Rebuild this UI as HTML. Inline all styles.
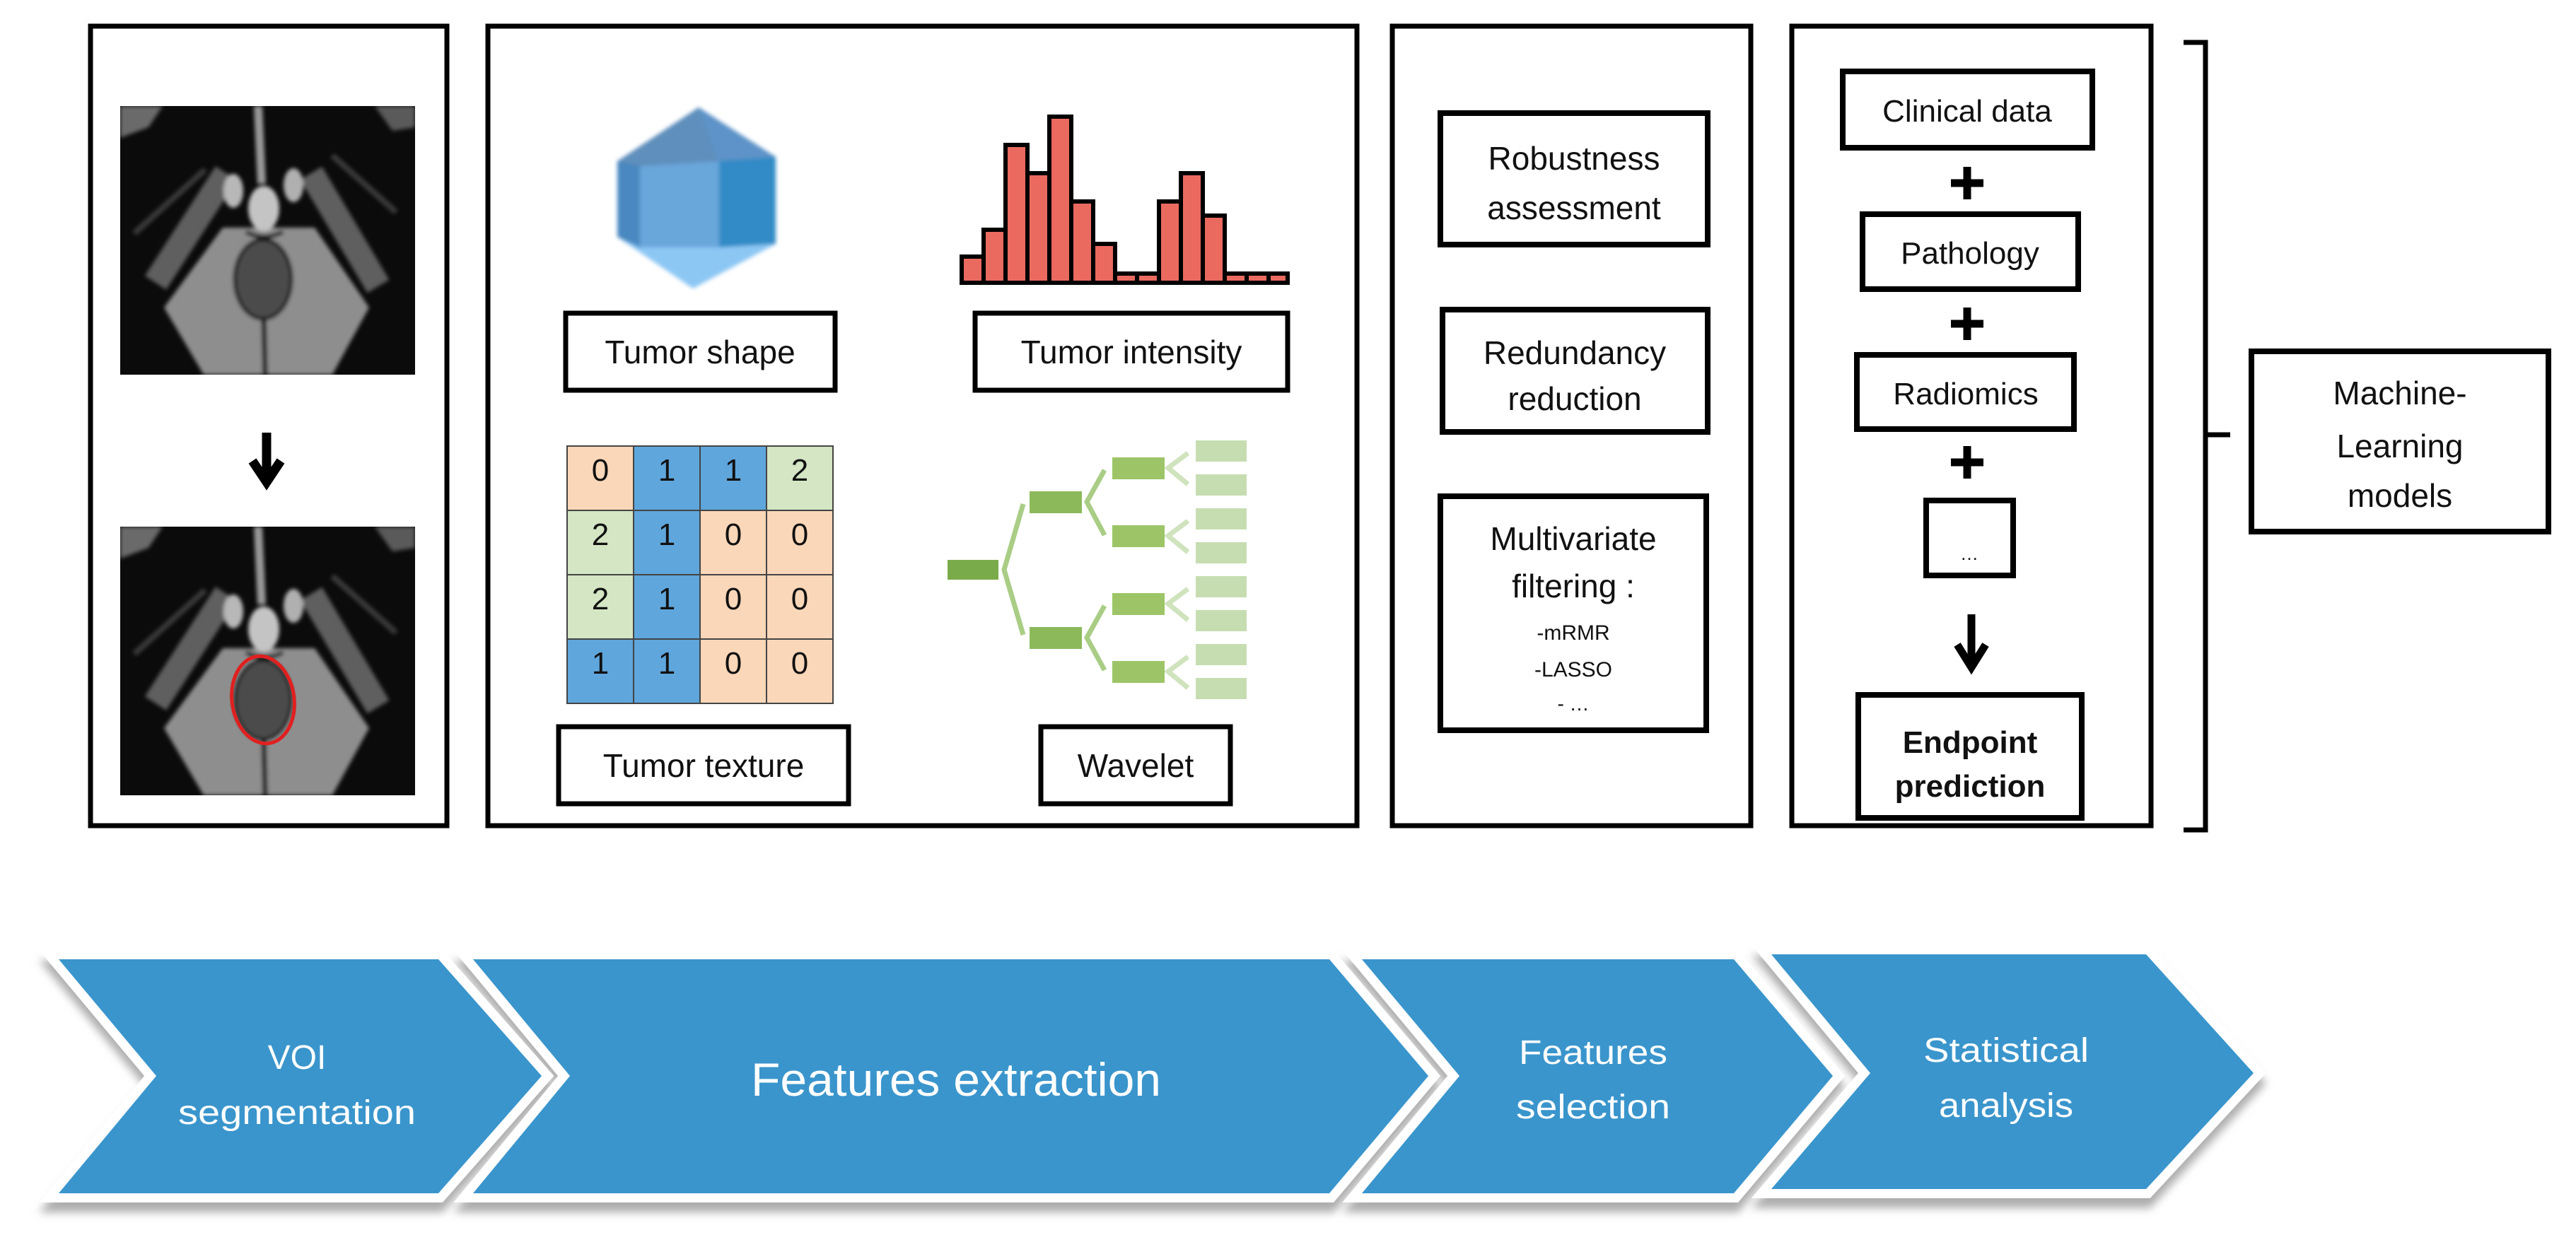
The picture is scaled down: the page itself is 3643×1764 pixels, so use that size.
<!DOCTYPE html>
<html><head><meta charset="utf-8"><style>
html,body{margin:0;padding:0;background:#fff}
svg{display:block}
text{font-family:"Liberation Sans",sans-serif}
</style></head><body>
<svg width="3643" height="1764" viewBox="0 0 3643 1764" xmlns="http://www.w3.org/2000/svg">
<defs>
<filter id="bl" x="-5%" y="-5%" width="110%" height="110%"><feGaussianBlur stdDeviation="3"/></filter>
<filter id="sh" x="-10%" y="-10%" width="120%" height="130%"><feDropShadow dx="0" dy="14" stdDeviation="6" flood-color="#999" flood-opacity="0.8"/></filter>
<clipPath id="mc"><rect x="0" y="0" width="417" height="380"/></clipPath>
<g id="mri">
 <g clip-path="url(#mc)">
 <rect x="0" y="0" width="417" height="380" fill="#0b0b0b"/>
 <g filter="url(#bl)">
  <path d="M0 0 L60 0 L40 30 L0 45 Z" fill="#6a6a6a"/>
  <path d="M417 0 L360 0 L385 35 L417 30 Z" fill="#5a5a5a"/>
  <polygon points="62,285 145,172 275,172 352,285 300,380 118,380" fill="#8e8e8e"/>
  <path d="M50 250 L150 95" stroke="#5e5e5e" stroke-width="36" fill="none"/>
  <path d="M270 95 L365 255" stroke="#5e5e5e" stroke-width="36" fill="none"/>
  <path d="M20 180 L120 90" stroke="#3a3a3a" stroke-width="8" fill="none"/>
  <path d="M300 70 L390 150" stroke="#3a3a3a" stroke-width="8" fill="none"/>
  <ellipse cx="160" cy="120" rx="14" ry="24" fill="#b8b8b8"/>
  <ellipse cx="245" cy="112" rx="14" ry="24" fill="#b0b0b0"/>
  <ellipse cx="203" cy="145" rx="22" ry="32" fill="#c4c4c4"/>
  <path d="M195 0 L200 110" stroke="#999" stroke-width="12"/>
  <path d="M178 178 Q203 192 230 178" stroke="#1a1a1a" stroke-width="6" fill="none"/>
  <ellipse cx="202" cy="245" rx="40" ry="56" fill="#4c4c4c" stroke="#141414" stroke-width="5"/>
  <path d="M203 300 L205 380" stroke="#111" stroke-width="7"/>
 </g>
 </g>
</g>
</defs>

<!-- Panel 1 -->
<rect x="128" y="37" width="504" height="1131" fill="none" stroke="#000" stroke-width="7"/>
<use href="#mri" x="170" y="150"/>
<use href="#mri" x="170" y="745"/>
<ellipse cx="372" cy="990" rx="44" ry="62" fill="none" stroke="#e02020" stroke-width="5" transform="rotate(-8 372 990)"/>
<path d="M377 612 L377 676" stroke="#000" stroke-width="13"/>
<path d="M357 652 L377 682 L397 652" stroke="#000" stroke-width="13" fill="none"/>

<!-- Panel 2 -->
<rect x="690" y="37" width="1229" height="1131" fill="none" stroke="#000" stroke-width="7"/>
<g filter="url(#bl)">
 <polygon points="988,152 1097,222 1097,345 980,408 873,335 873,228" fill="#3f85c0"/>
 <polygon points="988,152 873,228 905,235 1015,228" fill="#5f8fbc"/>
 <polygon points="988,152 1015,228 1097,222" fill="#5d93c8"/>
 <polygon points="905,235 1017,228 1017,350 905,350" fill="#69a6da"/>
 <polygon points="1017,228 1097,222 1097,345 1017,350" fill="#338bc6"/>
 <polygon points="873,335 905,350 1017,350 1097,345 980,408" fill="#8cc7f4"/>
 <polygon points="873,228 905,235 905,350 873,335" fill="#4a88c0"/>
</g>
<g stroke="#000" stroke-width="6" fill="#ea6a60">
 <rect x="1360" y="363" width="31" height="37"/>
 <rect x="1391" y="325" width="31" height="75"/>
 <rect x="1422" y="205" width="31" height="195"/>
 <rect x="1453" y="245" width="31" height="155"/>
 <rect x="1484" y="165" width="31" height="235"/>
 <rect x="1515" y="285" width="31" height="115"/>
 <rect x="1546" y="345" width="31" height="55"/>
 <rect x="1577" y="387" width="31" height="13"/>
 <rect x="1608" y="387" width="31" height="13"/>
 <rect x="1639" y="285" width="31" height="115"/>
 <rect x="1670" y="245" width="31" height="155"/>
 <rect x="1701" y="305" width="31" height="95"/>
 <rect x="1732" y="387" width="31" height="13"/>
 <rect x="1763" y="387" width="31" height="13"/>
 <rect x="1794" y="387" width="27" height="13"/>
</g>
<g fill="#fff" stroke="#000" stroke-width="7">
 <rect x="800" y="443" width="381" height="109"/>
 <rect x="1379" y="443" width="442" height="109"/>
 <rect x="790" y="1028" width="410" height="109"/>
 <rect x="1472" y="1028" width="268" height="109"/>
</g>
<g font-size="46" text-anchor="middle" fill="#111">
 <text x="990" y="514">Tumor shape</text>
 <text x="1600" y="514">Tumor intensity</text>
 <text x="995" y="1099">Tumor texture</text>
 <text x="1606" y="1099">Wavelet</text>
</g>
<g stroke="#444" stroke-width="2">
 <rect x="802" y="631" width="94" height="91" fill="#fbd7b9"/>
 <rect x="896" y="631" width="94" height="91" fill="#5fa6dc"/>
 <rect x="990" y="631" width="94" height="91" fill="#5fa6dc"/>
 <rect x="1084" y="631" width="94" height="91" fill="#d4e6c4"/>
 <rect x="802" y="722" width="94" height="91" fill="#d4e6c4"/>
 <rect x="896" y="722" width="94" height="91" fill="#5fa6dc"/>
 <rect x="990" y="722" width="94" height="91" fill="#fbd7b9"/>
 <rect x="1084" y="722" width="94" height="91" fill="#fbd7b9"/>
 <rect x="802" y="813" width="94" height="91" fill="#d4e6c4"/>
 <rect x="896" y="813" width="94" height="91" fill="#5fa6dc"/>
 <rect x="990" y="813" width="94" height="91" fill="#fbd7b9"/>
 <rect x="1084" y="813" width="94" height="91" fill="#fbd7b9"/>
 <rect x="802" y="904" width="94" height="91" fill="#5fa6dc"/>
 <rect x="896" y="904" width="94" height="91" fill="#5fa6dc"/>
 <rect x="990" y="904" width="94" height="91" fill="#fbd7b9"/>
 <rect x="1084" y="904" width="94" height="91" fill="#fbd7b9"/>
</g>
<g font-size="44" text-anchor="middle" fill="#111">
 <text x="849" y="680">0</text><text x="943" y="680">1</text><text x="1037" y="680">1</text><text x="1131" y="680">2</text>
 <text x="849" y="771">2</text><text x="943" y="771">1</text><text x="1037" y="771">0</text><text x="1131" y="771">0</text>
 <text x="849" y="862">2</text><text x="943" y="862">1</text><text x="1037" y="862">0</text><text x="1131" y="862">0</text>
 <text x="849" y="953">1</text><text x="943" y="953">1</text><text x="1037" y="953">0</text><text x="1131" y="953">0</text>
</g>
<g stroke="#a9cd85" stroke-width="7" fill="none">
 <polyline points="1447,713 1420,806 1447,898"/>
 <polyline points="1562,665 1537,710 1562,757"/>
 <polyline points="1562,857 1537,902 1562,948"/>
 <polyline points="1680,641 1652,662 1680,685" stroke="#cfe3bd"/>
 <polyline points="1680,737 1652,758 1680,781" stroke="#cfe3bd"/>
 <polyline points="1680,833 1652,854 1680,877" stroke="#cfe3bd"/>
 <polyline points="1680,929 1652,950 1680,973" stroke="#cfe3bd"/>
</g>
<rect x="1340" y="792" width="72" height="28" fill="#7aab4a"/>
<g fill="#8cb95a"><rect x="1456" y="695" width="74" height="31"/><rect x="1456" y="887" width="74" height="31"/></g>
<g fill="#9dc567"><rect x="1573" y="647" width="74" height="31"/><rect x="1573" y="743" width="74" height="31"/><rect x="1573" y="839" width="74" height="31"/><rect x="1573" y="935" width="74" height="31"/></g>
<g fill="#c6ddb1">
 <rect x="1691" y="623" width="72" height="30"/><rect x="1691" y="671" width="72" height="30"/>
 <rect x="1691" y="719" width="72" height="30"/><rect x="1691" y="767" width="72" height="30"/>
 <rect x="1691" y="815" width="72" height="30"/><rect x="1691" y="863" width="72" height="30"/>
 <rect x="1691" y="911" width="72" height="30"/><rect x="1691" y="959" width="72" height="30"/>
</g>

<!-- Panel 3 -->
<rect x="1969" y="37" width="507" height="1131" fill="none" stroke="#000" stroke-width="7"/>
<g fill="none" stroke="#000" stroke-width="8">
 <rect x="2037" y="160" width="378" height="186"/>
 <rect x="2040" y="438" width="375" height="173"/>
 <rect x="2037" y="702" width="376" height="331"/>
</g>
<g font-size="46" text-anchor="middle" fill="#111">
 <text x="2226" y="240">Robustness</text>
 <text x="2226" y="310">assessment</text>
 <text x="2227" y="515">Redundancy</text>
 <text x="2227" y="580">reduction</text>
 <text x="2225" y="778">Multivariate</text>
 <text x="2225" y="845">filtering :</text>
 <text x="2225" y="905" font-size="30">-mRMR</text>
 <text x="2225" y="957" font-size="30">-LASSO</text>
 <text x="2225" y="1005" font-size="28">- …</text>
</g>

<!-- Panel 4 -->
<rect x="2534" y="37" width="508" height="1131" fill="none" stroke="#000" stroke-width="7"/>
<g fill="none" stroke="#000" stroke-width="8">
 <rect x="2606" y="101" width="353" height="108"/>
 <rect x="2634" y="303" width="305" height="106"/>
 <rect x="2626" y="502" width="307" height="105"/>
 <rect x="2724" y="708" width="123" height="106"/>
 <rect x="2628" y="983" width="316" height="174"/>
</g>
<g font-size="44" text-anchor="middle" fill="#111">
 <text x="2782" y="172">Clinical data</text>
 <text x="2786" y="373">Pathology</text>
 <text x="2780" y="572">Radiomics</text>
 <text x="2785" y="792" font-size="26">…</text>
 <text x="2786" y="1065" font-weight="bold">Endpoint</text>
 <text x="2786" y="1127" font-weight="bold">prediction</text>
</g>
<g stroke="#000" stroke-width="11">
 <path d="M2782 236 L2782 282 M2759 259 L2805 259"/>
 <path d="M2782 435 L2782 481 M2759 458 L2805 458"/>
 <path d="M2782 631 L2782 677 M2759 654 L2805 654"/>
 <path d="M2788 869 L2788 940"/>
 <path d="M2768 912 L2788 944 L2808 912" fill="none"/>
</g>

<path d="M3088 60 L3119 60 L3119 1174 L3088 1174 M3119 615 L3154 615" fill="none" stroke="#000" stroke-width="7"/>
<rect x="3184" y="497" width="420" height="255" fill="none" stroke="#000" stroke-width="8"/>
<g font-size="46" text-anchor="middle" fill="#111">
 <text x="3394" y="572">Machine-</text>
 <text x="3394" y="647">Learning</text>
 <text x="3394" y="717">models</text>
</g>

<g filter="url(#sh)" fill="#fff" stroke="#fff" stroke-width="26" stroke-linejoin="miter">
 <polygon points="83,1357 620,1357 766,1522 620,1688 83,1688 221,1522"/>
 <polygon points="669,1357 1880,1357 2020,1522 1880,1688 669,1688 806,1522"/>
 <polygon points="1926,1357 2452,1357 2592,1522 2452,1688 1926,1688 2064,1522"/>
 <polygon points="2505,1350 3035,1350 3187,1518 3035,1682 2505,1682 2645,1518"/>
</g>
<g fill="#3a95cc">
 <polygon points="83,1357 620,1357 766,1522 620,1688 83,1688 221,1522"/>
 <polygon points="669,1357 1880,1357 2020,1522 1880,1688 669,1688 806,1522"/>
 <polygon points="1926,1357 2452,1357 2592,1522 2452,1688 1926,1688 2064,1522"/>
 <polygon points="2505,1350 3035,1350 3187,1518 3035,1682 2505,1682 2645,1518"/>
</g>
<g fill="#fff" text-anchor="middle" font-size="48">
 <text x="420" y="1512">VOI</text>
 <text x="420" y="1590" textLength="336" lengthAdjust="spacingAndGlyphs">segmentation</text>
 <text x="1352" y="1550" font-size="66" textLength="580" lengthAdjust="spacingAndGlyphs">Features extraction</text>
 <text x="2253" y="1505" textLength="210" lengthAdjust="spacingAndGlyphs">Features</text>
 <text x="2253" y="1582" textLength="218" lengthAdjust="spacingAndGlyphs">selection</text>
 <text x="2837" y="1502" textLength="234" lengthAdjust="spacingAndGlyphs">Statistical</text>
 <text x="2837" y="1580" textLength="190" lengthAdjust="spacingAndGlyphs">analysis</text>
</g>
</svg>
</body></html>
